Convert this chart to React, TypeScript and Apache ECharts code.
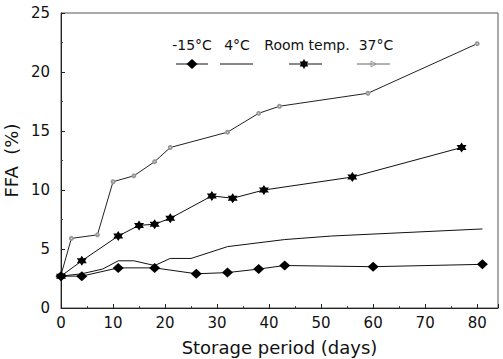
import React, { useEffect, useRef } from "react";
import * as echarts from "echarts";

const xTicks = [0, 10, 20, 30, 40, 50, 60, 70, 80];
const yTicks = [0, 5, 10, 15, 20, 25];

const seriesNames = ["-15°C", "4°C", "Room temp.", "37°C"];

const daysM15 = [0, 4, 11, 18, 26, 32, 38, 43, 60, 81];
const ffaM15 = [2.7, 2.7, 3.4, 3.4, 2.9, 3.0, 3.3, 3.6, 3.5, 3.7];

const days4 = [0, 4, 8, 11, 14, 18, 21, 25, 32, 43, 52, 81];
const ffa4 = [2.7, 2.9, 3.3, 4.0, 4.0, 3.6, 4.2, 4.2, 5.2, 5.8, 6.1, 6.7];

const daysRoom = [0, 4, 11, 15, 18, 21, 29, 33, 39, 56, 77];
const ffaRoom = [2.7, 4.0, 6.1, 7.0, 7.1, 7.6, 9.5, 9.3, 10.0, 11.1, 13.6];

const days37 = [0, 2, 7, 10, 14, 18, 21, 32, 38, 42, 59, 80];
const ffa37 = [2.8, 5.9, 6.2, 10.7, 11.2, 12.4, 13.6, 14.9, 16.5, 17.1, 18.2, 22.4];

const STAR =
  "path://M0,-10L2.9,-5.02L8.66,-5L5.8,0L8.66,5L2.9,5.02L0,10L-2.9,5.02L-8.66,5L-5.8,0L-8.66,-5L-2.9,-5.02Z";

const FONT = "DejaVu Sans";

function pairs(xs: number[], ys: number[]) {
  return xs.map((x, i) => [x, ys[i]]);
}

export default function App() {
  const ref = useRef<HTMLDivElement>(null);
  useEffect(() => {
    if (!ref.current) return;
    const chart = echarts.init(ref.current, null, { renderer: "svg" });

    const legendY = 45;
    const lineY = 64;
    const legendItems = [
      { text: seriesNames[0], cx: 192, x1: 176, x2: 208 },
      { text: seriesNames[1], cx: 237, x1: 220, x2: 253 },
      { text: seriesNames[2], cx: 307, x1: 289, x2: 322 },
      { text: seriesNames[3], cx: 376, x1: 357, x2: 390 },
    ];
    const graphic: any[] = [];
    legendItems.forEach((it, i) => {
      graphic.push({
        type: "text",
        x: it.cx,
        y: legendY,
        style: {
          text: it.text,
          font: `14px "${FONT}"`,
          fill: "#111",
          align: "center",
          verticalAlign: "middle",
        },
      });
      graphic.push({
        type: "line",
        shape: { x1: it.x1, y1: lineY, x2: it.x2, y2: lineY },
        style: { stroke: i === 3 ? "#666" : "#111", lineWidth: 1 },
      });
    });
    const mx = (legendItems[0].x1 + legendItems[0].x2) / 2;
    graphic.push({
      type: "polygon",
      shape: { points: [[mx, lineY - 5], [mx + 5.5, lineY], [mx, lineY + 5], [mx - 5.5, lineY]] },
      style: { fill: "#000" },
    });
    const sx = 304;
    const starPts: number[][] = [];
    for (let k = 0; k < 12; k++) {
      const a = (-90 + k * 30) * (Math.PI / 180);
      const r = k % 2 === 0 ? 5 : 2.9;
      starPts.push([sx + r * Math.cos(a), lineY + r * Math.sin(a)]);
    }
    graphic.push({ type: "polygon", shape: { points: starPts }, style: { fill: "#000" } });
    graphic.push({
      type: "polygon",
      shape: { points: [[371, lineY - 3], [376, lineY], [371, lineY + 3]] },
      style: { fill: "none", stroke: "#888", lineWidth: 0.8 },
    });

    chart.setOption({
      animation: false,
      backgroundColor: "#fff",
      grid: {
        left: 61,
        right: 5,
        top: 13,
        bottom: 51,
        containLabel: false,
        outerBoundsMode: "none",
      },
      xAxis: {
        type: "value",
        min: 0,
        max: 84,
        interval: 10,
        name: "Storage period (days)",
        nameLocation: "middle",
        nameGap: 30,
        nameTextStyle: { fontFamily: FONT, fontSize: 18, color: "#111" },
        axisLine: { show: true, lineStyle: { color: "#222", width: 1 } },
        axisTick: { show: true, inside: true, length: 4, lineStyle: { color: "#222" } },
        minorTick: { show: true, splitNumber: 2, length: 2, lineStyle: { color: "#444" } },
        axisLabel: {
          fontFamily: FONT,
          fontSize: 15,
          color: "#111",
          margin: 7,
          customValues: xTicks,
        },
        splitLine: { show: false },
      },
      yAxis: {
        type: "value",
        min: 0,
        max: 25,
        interval: 5,
        name: "FFA  (%)",
        nameLocation: "middle",
        nameGap: 41,
        nameRotate: 90,
        nameTextStyle: { fontFamily: FONT, fontSize: 18, color: "#111" },
        axisLine: { show: true, lineStyle: { color: "#222", width: 1 } },
        axisTick: { show: true, inside: true, length: 4, lineStyle: { color: "#222" } },
        minorTick: { show: true, splitNumber: 2, length: 2, lineStyle: { color: "#444" } },
        axisLabel: {
          fontFamily: FONT,
          fontSize: 15,
          color: "#111",
          margin: 11,
          customValues: yTicks,
        },
        splitLine: { show: false },
      },
      graphic: [
        {
          type: "rect",
          shape: { x: 61, y: 13, width: 437, height: 295 },
          style: { fill: "none", stroke: "#555", lineWidth: 1 },
          silent: true,
          z: -1,
        },
        ...graphic,
      ],
      series: [
        {
          name: seriesNames[0],
          type: "line",
          data: pairs(daysM15, ffaM15),
          symbol: "diamond",
          symbolSize: [11, 10],
          itemStyle: { color: "#000" },
          lineStyle: { color: "#111", width: 1 },
          z: 4,
        },
        {
          name: seriesNames[1],
          type: "line",
          data: pairs(days4, ffa4),
          symbol: "none",
          lineStyle: { color: "#111", width: 1 },
        },
        {
          name: seriesNames[2],
          type: "line",
          data: pairs(daysRoom, ffaRoom),
          symbol: STAR,
          symbolSize: 10,
          itemStyle: { color: "#000" },
          lineStyle: { color: "#111", width: 1 },
          z: 4,
        },
        {
          name: seriesNames[3],
          type: "line",
          data: pairs(days37, ffa37),
          symbol: "emptyCircle",
          symbolSize: 3,
          itemStyle: { color: "#999", borderColor: "#aaa" },
          lineStyle: { color: "#222", width: 1 },
        },
      ],
    });
    return () => chart.dispose();
  }, []);
  return (
    <div
      ref={ref}
      style={{ position: "absolute", left: 0, top: 0, width: 503, height: 359, background: "#fff" }}
    />
  );
}
